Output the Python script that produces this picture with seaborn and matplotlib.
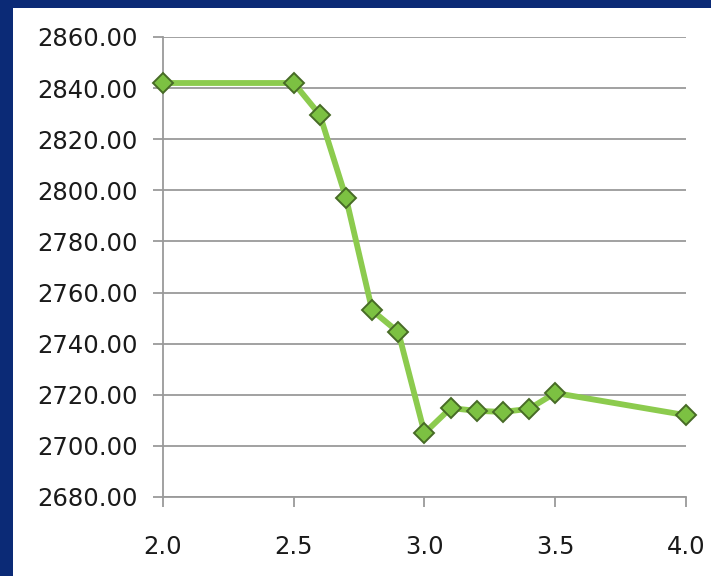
import matplotlib
matplotlib.use("Agg")
import matplotlib.pyplot as plt
from matplotlib.patches import Rectangle
import seaborn as sns
import pandas as pd

# Measured values
x_values = [2.0, 2.5, 2.6, 2.7, 2.8, 2.9, 3.0, 3.1, 3.2, 3.3, 3.4, 3.5, 4.0]
y_values = [2842.0, 2842.0, 2829.5, 2797.0, 2753.0, 2744.5, 2705.0,
            2714.8, 2713.7, 2713.3, 2714.5, 2720.7, 2712.0]
x_ticks = [2.0, 2.5, 3.0, 3.5, 4.0]
y_ticks = [2680, 2700, 2720, 2740, 2760, 2780, 2800, 2820, 2840, 2860]

df = pd.DataFrame({"x": x_values, "y": y_values})

sns.set_style("white")
plt.rcParams["font.family"] = ["DejaVu Sans"]

W, H = 711, 576
fig = plt.figure(figsize=(W / 100, H / 100), dpi=100, facecolor="#0b2a76")
# white slide panel behind the chart
fig.patches.append(Rectangle((13 / W, 0), 1 - 13 / W, 1 - 8 / H,
                             transform=fig.transFigure, facecolor="white",
                             edgecolor="none", zorder=-10))

ax = fig.add_axes([163 / W, 1 - 497 / H, (686 - 163) / W, (497 - 37) / H])
ax.set_zorder(1)
ax.set_facecolor("white")

sns.lineplot(data=df, x="x", y="y", ax=ax, color="#8ccb4e", linewidth=4.2,
             marker="D", markersize=10, markerfacecolor="#7cc142",
             markeredgecolor="#476b26", markeredgewidth=1.4, zorder=3,
             clip_on=False)

ax.set_xlim(2.0, 4.0)
ax.set_ylim(2680, 2860)
ax.set_xticks(x_ticks)
ax.set_xticklabels([f"{v:.1f}" for v in x_ticks])
ax.set_yticks(y_ticks)
ax.set_yticklabels([f"{v:.2f}" for v in y_ticks])
ax.set_xlabel("")
ax.set_ylabel("")

ax.grid(axis="y", color="#9a9a9a", linewidth=1.3)
ax.grid(axis="x", visible=False)
ax.set_axisbelow(True)

for s in ["top", "right"]:
    ax.spines[s].set_visible(False)
for s in ["left", "bottom"]:
    ax.spines[s].set_color("#9a9a9a")
    ax.spines[s].set_linewidth(1.3)

ax.tick_params(axis="y", which="major", length=7, width=1.3, color="#9a9a9a",
               direction="out", pad=11, labelsize=17.5, labelcolor="#1a1a1a", left=True)
ax.tick_params(axis="x", which="major", length=7, width=1.3, color="#9a9a9a",
               direction="out", pad=20, labelsize=17.5, labelcolor="#1a1a1a", bottom=True)

fig.savefig("out.png", dpi=100, facecolor=fig.get_facecolor())
